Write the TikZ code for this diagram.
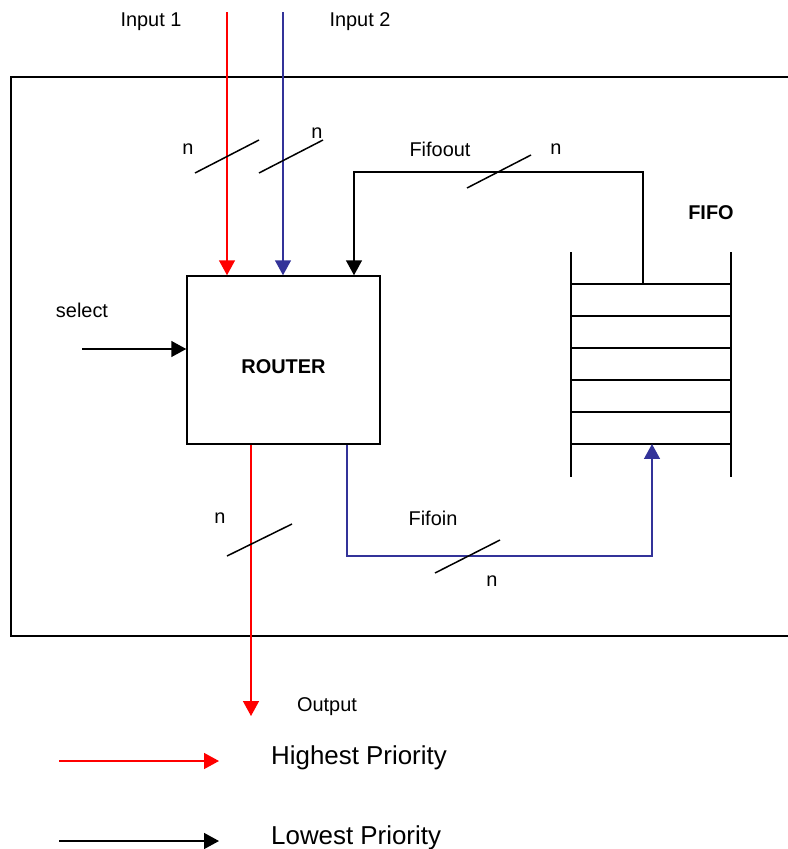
\documentclass[tikz,border=0pt]{standalone}
\usepackage{fontspec}
\setmainfont{Liberation Sans}
\usetikzlibrary{arrows.meta, positioning}
\definecolor{busblue}{RGB}{51,51,153}
\tikzset{
  line/.style={-{Triangle[length=15pt, width=16pt]}, line width=1.5pt},
  busmark/.style={line width=1.5pt},
  lbl/.style={font=\fontsize{20}{24}\selectfont, inner sep=0pt},
  legend/.style={font=\fontsize{26}{31}\selectfont, anchor=west, inner sep=0pt},
  block/.style={rectangle, draw, line width=1.5pt, minimum width=193bp, minimum height=168bp, text height=26bp, text depth=0pt, font=\bfseries\fontsize{20}{24}\selectfont},
  stack/.style={line width=2pt}
}

\begin{document}
\begin{tikzpicture}[x=1bp, y=-1bp]
    \useasboundingbox (0,0) rectangle (788,849);
    % outer frame, open on the right
    \draw[line width=2.5pt] (788,77) -- (11,77) -- (11,636) -- (788,636);

    \node[block] (router) at (283.5,360) {ROUTER};

    % fifo stack
    \draw[stack] (571,252) -- (571,477);
    \draw[stack] (731,252) -- (731,477);
    \foreach \y in {284,316,348,380,412,444}
      \draw[stack] (571,\y) -- (731,\y);
    \coordinate (ftop) at (643,284);
    \coordinate (fbot) at (652,444);
    \node[lbl, font=\bfseries\fontsize{20}{24}\selectfont] (fifo) at (711,213) {FIFO};

    % inputs
    \coordinate (in1) at (227,12);
    \coordinate (in2) at (283,12);
    \node[lbl] (in1txt) at (151,22) {Input 1};
    \node[lbl] (in2txt) at (360,22) {Input 2};
    \draw[line, red] (in1) -- (in1 |- router.north);
    \draw[line, busblue] (in2) -- (in2 |- router.north);
    \draw[busmark] (195,173) -- ++(64,-33);
    \draw[busmark] (259,173) -- ++(64,-33);
    \node[lbl] (n1) at (188,149) {n};
    \node[lbl] (n2) at (317,133) {n};

    % select
    \coordinate (sel) at (82,349);
    \node[lbl] (seltxt) at (82,310) {select};
    \draw[line] (sel) -- (sel -| router.west);

    % fifo output back to router
    \coordinate (fo) at (354,172);
    \draw[line] (ftop) |- (fo) -- (fo |- router.north);
    \draw[busmark] (467,188) -- ++(64,-33);
    \node[lbl] (fotxt) at (440,149) {Fifoout};
    \node[lbl] (n3) at (556,149) {n};

    % router to fifo
    \coordinate (fi) at (347,556);
    \draw[line, busblue] (fi |- router.south) -- (fi) -| (fbot);
    \draw[busmark] (435,573) -- ++(65,-33);
    \node[lbl] (fitxt) at (433,518) {Fifoin};
    \node[lbl] (n4) at (492,581) {n};

    % output
    \coordinate (out) at (251,716);
    \draw[line, red] (out |- router.south) -- (out);
    \draw[busmark] (227,556) -- ++(65,-32);
    \node[lbl] (n5) at (220,518) {n};
    \node[lbl] (outtxt) at (327,707) {Output};

    % legend
    \coordinate (hi) at (59,761);
    \coordinate (hiend) at (219,761);
    \coordinate (lo) at (59,841);
    \coordinate (loend) at (219,841);
    \draw[line, red] (hi) -- (hiend);
    \draw[line] (lo) -- (loend);
    \node[legend] (hitxt) at (271,758) {Highest Priority};
    \node[legend] (lotxt) at (271,838) {Lowest Priority};
  \end{tikzpicture}
\end{document}
